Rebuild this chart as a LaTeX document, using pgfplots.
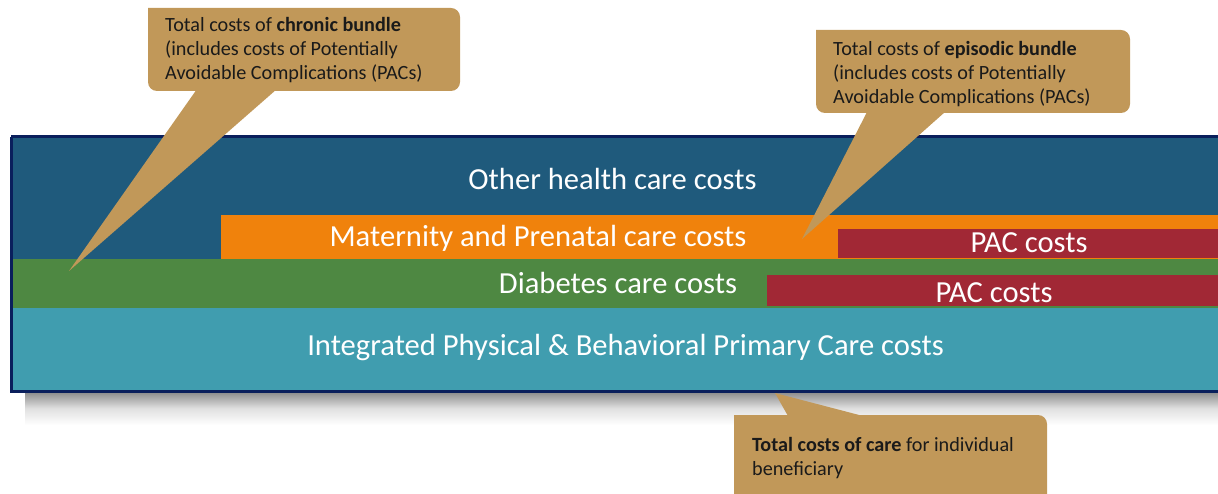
\documentclass[border=0pt]{standalone}
\usepackage{pgfplots}
\pgfplotsset{compat=1.18}
\usepackage{fontspec}
\setmainfont{Carlito}
\definecolor{darkblue}{HTML}{1F5A7C}
\definecolor{navy}{HTML}{0A1F5C}
\definecolor{orng}{HTML}{F0820C}
\definecolor{pacred}{HTML}{A12835}
\definecolor{grn}{HTML}{4E8842}
\definecolor{teal}{HTML}{409DAF}
\definecolor{tan}{HTML}{C19859}
\definecolor{txt}{HTML}{1A1A1A}
\begin{document}
\begin{tikzpicture}
\useasboundingbox (0,0) rectangle (1218pt,494pt);
\begin{axis}[width=1218pt, height=494pt, scale only axis, at={(0,0)}, anchor=south west,
  xmin=0, xmax=1218, ymin=0, ymax=494, y dir=reverse,
  axis lines=none, clip=true]
% shadow
\addplot[draw=none, top color=black!45, bottom color=white, middle color=black!12] coordinates {(25,392) (1230,392) (1230,425) (25,425)};
% outer box
\addplot[fill=darkblue, draw=navy, line width=3pt] coordinates {(11,137) (1240,137) (1240,391) (11,391) (11,137)};
% maternity
\addplot[fill=orng, draw=none] coordinates {(221,215) (1240,215) (1240,259) (221,259)};
\addplot[fill=pacred, draw=none] coordinates {(838,229) (1240,229) (1240,258) (838,258)};
% diabetes
\addplot[fill=grn, draw=none] coordinates {(12.5,259) (1240,259) (1240,308) (12.5,308)};
\addplot[fill=pacred, draw=none] coordinates {(767,275) (1240,275) (1240,306) (767,306)};
% primary care
\addplot[fill=teal, draw=none] coordinates {(12.5,308) (1240,308) (1240,389.5) (12.5,389.5)};
% callout 1
\addplot[fill=tan, draw=none] coordinates {(197,89) (277,89) (69,271)};
\addplot[fill=tan, draw=none, rounded corners=9pt] coordinates {(148,8) (460,8) (460,91) (148,91) (148,8)};
% callout 2
\addplot[fill=tan, draw=none] coordinates {(867,112) (945,112) (802,239)};
\addplot[fill=tan, draw=none, rounded corners=9pt] coordinates {(816,30) (1130,30) (1130,113) (816,113) (816,30)};
% callout 3
\addplot[fill=tan, draw=none] coordinates {(775,393) (788,416) (863,416)};
\addplot[fill=tan, draw=none, rounded corners=9pt] coordinates {(734,415) (1047,415) (1047,520) (734,520) (734,415)};
% labels
\begin{scope}[every node/.style={text=white, font=\fontsize{30.6}{36}\selectfont, inner sep=0pt, anchor=base}]
\node at (axis cs:612.5,190) {Other health care costs};
\node at (axis cs:538,247) {Maternity and Prenatal care costs};
\node at (axis cs:1029,253) {PAC costs};
\node at (axis cs:618,294) {Diabetes care costs};
\node at (axis cs:994,302) {PAC costs};
\node at (axis cs:625.5,355) {Integrated Physical \& Behavioral Primary Care costs};
\end{scope}
\begin{scope}[every node/.style={text=txt, font=\fontsize{20.2}{24}\selectfont, inner sep=0pt, align=left, anchor=north west}]
\node at (axis cs:165,17) {Total costs of \textbf{chronic bundle}\\(includes costs of Potentially\\Avoidable Complications (PACs)};
\node at (axis cs:833,41) {Total costs of \textbf{episodic bundle}\\(includes costs of Potentially\\Avoidable Complications (PACs)};
\node at (axis cs:752,437) {\textbf{Total costs of care} for individual\\beneficiary};
\end{scope}
\end{axis}
\end{tikzpicture}
\end{document}
